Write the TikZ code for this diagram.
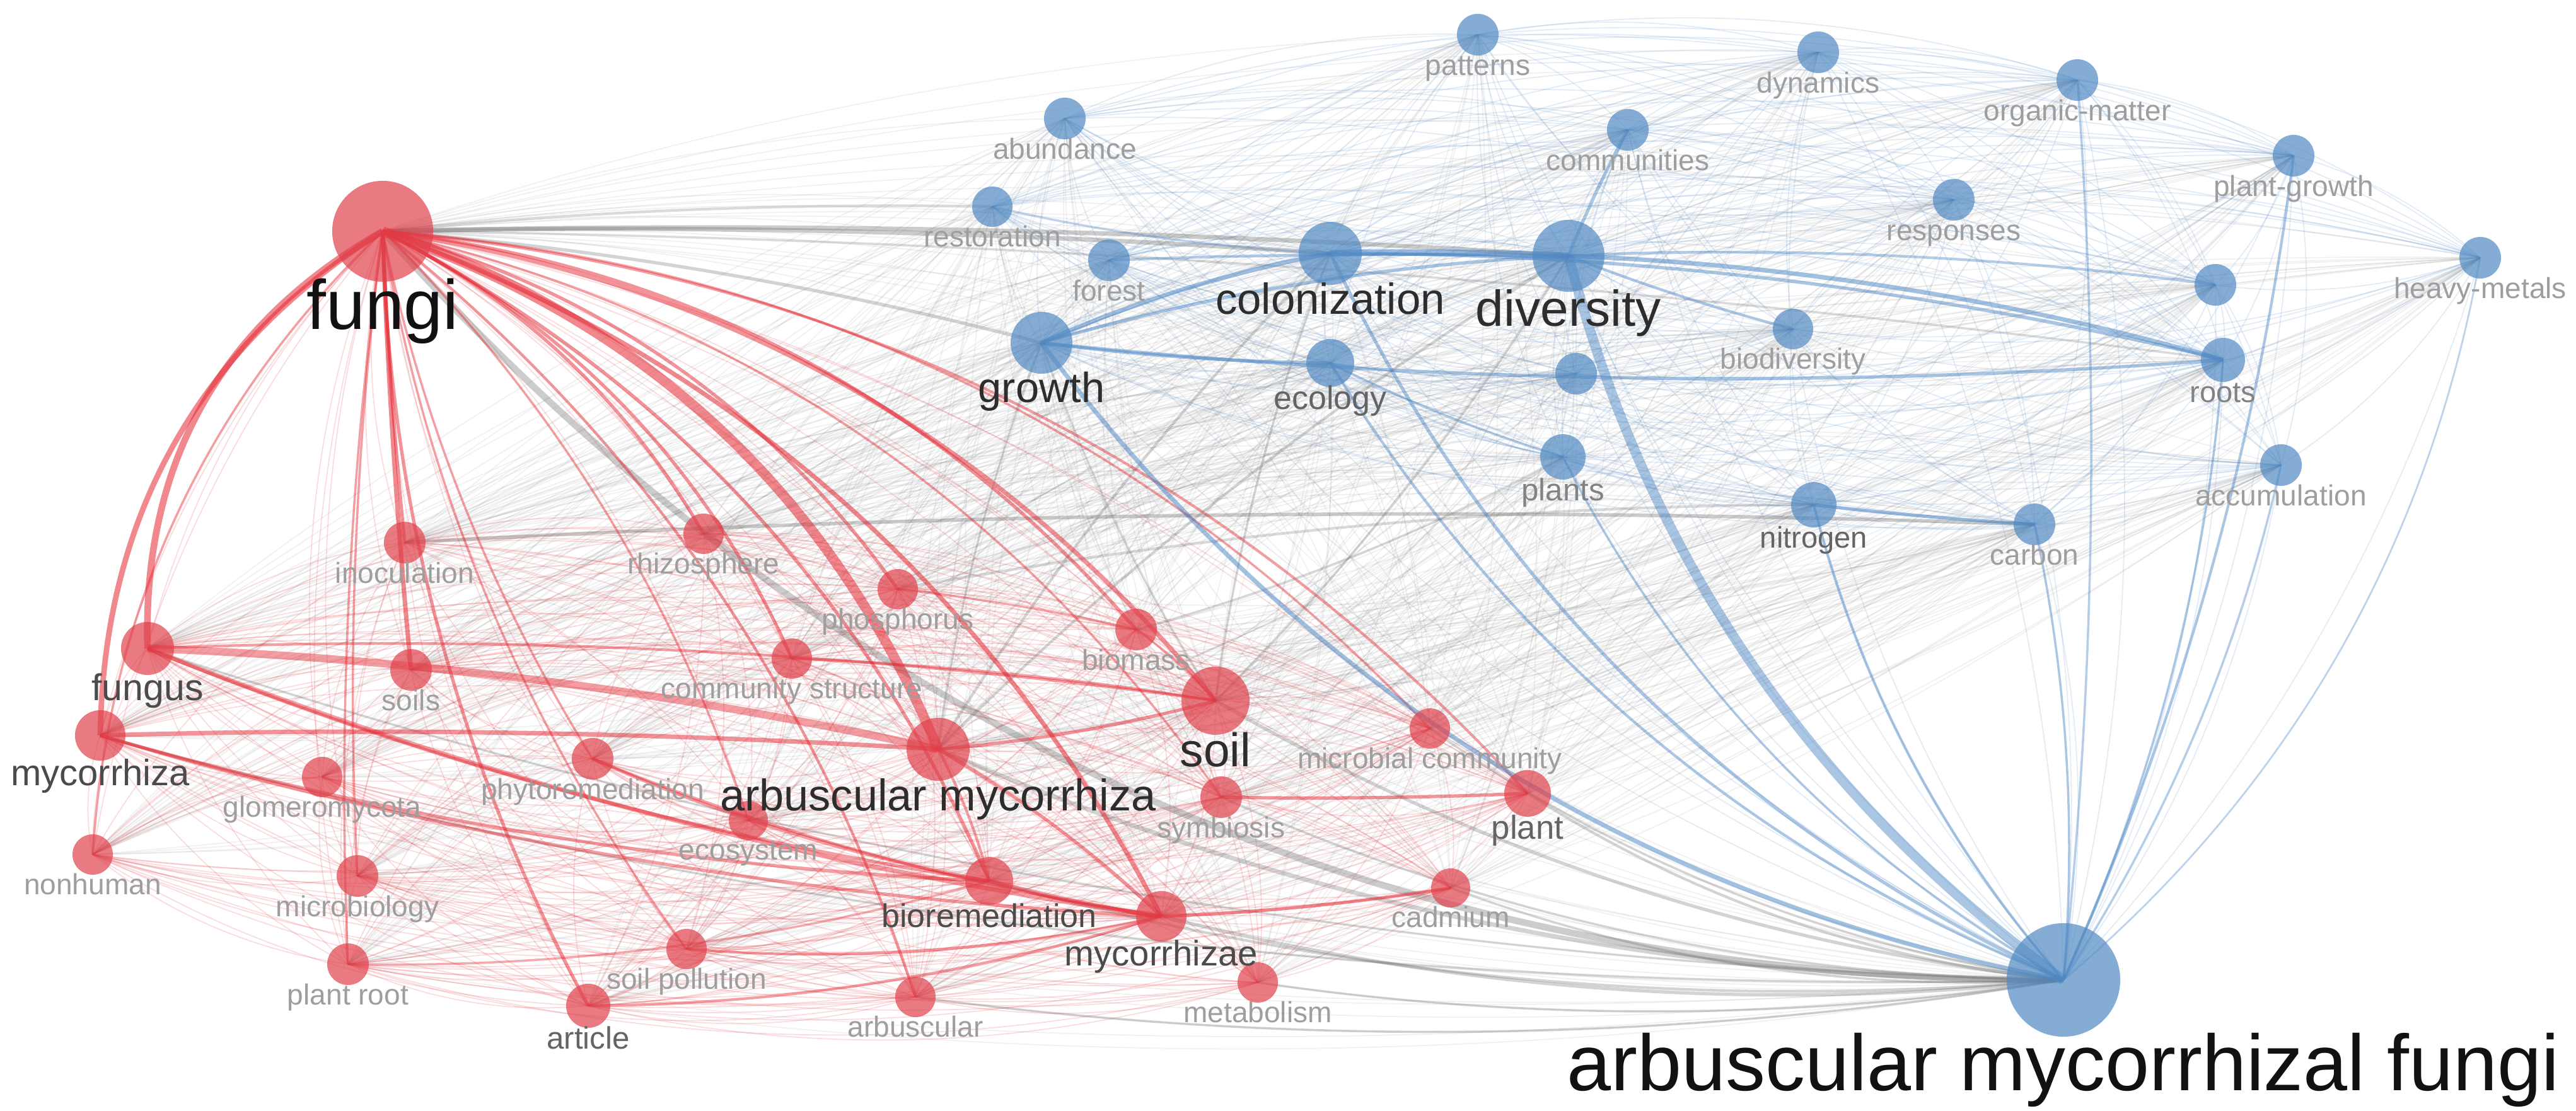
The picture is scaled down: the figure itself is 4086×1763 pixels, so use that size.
\documentclass[tikz,border=0pt]{standalone}
\usepackage{fontspec}
\setmainfont{Liberation Sans}
\definecolor{nodered}{RGB}{224,66,76}
\definecolor{nodeblue}{RGB}{82,138,194}
\definecolor{edgered}{RGB}{228,40,50}
\definecolor{edgeblue}{RGB}{70,130,195}
\definecolor{edgegrey}{RGB}{110,110,110}
\definecolor{lab0}{RGB}{17,17,17}
\definecolor{lab1}{RGB}{45,45,45}
\definecolor{lab2}{RGB}{75,75,75}
\definecolor{lab3}{RGB}{100,100,100}
\definecolor{lab4}{RGB}{130,130,130}
\definecolor{lab5}{RGB}{158,158,158}
\pgfdeclarelayer{background}
\pgfsetlayers{background,main}
\tikzset{
  kwdot/.style={circle, inner sep=0pt, draw=none, fill opacity=0.7},
  hr/.style={draw=edgered, line width=0.5pt, draw opacity=0.16},
  hb/.style={draw=edgeblue, line width=0.5pt, draw opacity=0.15},
  hg/.style={draw=edgegrey, line width=0.5pt, draw opacity=0.095},
}
% #1,#2 node names; #3,#4 centre (px/100) the curve bulges away from; #5 bulge factor; #6 style
\newcommand\kwedge[6]{%
  \pgfmathsetmacro\kwax{\csname kx@#1\endcsname}%
  \pgfmathsetmacro\kway{\csname ky@#1\endcsname}%
  \pgfmathsetmacro\kwbx{\csname kx@#2\endcsname}%
  \pgfmathsetmacro\kwby{\csname ky@#2\endcsname}%
  \pgfmathsetmacro\kwdx{\kwbx-\kwax}%
  \pgfmathsetmacro\kwdy{\kwby-\kway}%
  \pgfmathsetmacro\kws{((\kwax+\kwbx)/200-#3)*(\kwdy/100)-((\kway+\kwby)/200-#4)*(\kwdx/100)}%
  \pgfmathsetmacro\kwk{\kws>0 ? #5 : -#5}%
  \pgfmathsetmacro\kwpx{\kwax+\kwdx/3+\kwk*\kwdy}%
  \pgfmathsetmacro\kwpy{\kway+\kwdy/3-\kwk*\kwdx}%
  \pgfmathsetmacro\kwqx{\kwax+2*\kwdx/3+\kwk*\kwdy}%
  \pgfmathsetmacro\kwqy{\kway+2*\kwdy/3-\kwk*\kwdx}%
  \draw[#6] (#1.center) .. controls (\kwpx,\kwpy) and (\kwqx,\kwqy) .. (#2.center);%
}
\def\kwlist{fungi/607/367/80/fungi/31.6/lab0/nodered,
inoculation/642/861/33/inoculation/13.1/lab5/nodered,
rhizosphere/1116/847/32/rhizosphere/13.1/lab5/nodered,
phosphorus/1424/935/32/phosphorus/13.1/lab5/nodered,
fungus/234/1029/42/fungus/16.8/lab2/nodered,
biomass/1802/999/33/biomass/13.1/lab5/nodered,
commstruct/1256/1045/32/community structure/13.1/lab5/nodered,
soils/652/1063/33/soils/13.1/lab5/nodered,
soil/1928/1112/54/soil/21.3/lab1/nodered,
mycorrhiza/159/1167/40/mycorrhiza/16.5/lab2/nodered,
am/1488/1189/50/arbuscular mycorrhiza/20/lab1/nodered,
microbcomm/2268/1156/32/microbial community/13.1/lab5/nodered,
phyto/940/1204/33/phytoremediation/13.1/lab5/nodered,
glomero/511/1233/32/glomeromycota/13.1/lab5/nodered,
plant/2423/1259/37/plant/15/lab3/nodered,
symbiosis/1937/1265/33/symbiosis/13.1/lab5/nodered,
ecosystem/1187/1302/31/ecosystem/13.1/lab5/nodered,
nonhuman/147/1356/32/nonhuman/13.1/lab5/nodered,
microbiology/567/1390/33/microbiology/13.1/lab5/nodered,
bioremed/1569/1398/38/bioremediation/14.8/lab2/nodered,
mycorrhizae/1842/1454/40/mycorrhizae/16/lab2/nodered,
cadmium/2301/1409/31/cadmium/13.1/lab5/nodered,
plantroot/552/1530/33/plant root/13.1/lab5/nodered,
soilpoll/1089/1506/32/soil pollution/13.1/lab5/nodered,
article/933/1596/35/article/14/lab3/nodered,
arbuscular/1452/1582/32/arbuscular/13.1/lab5/nodered,
metabolism/1995/1559/32/metabolism/13.1/lab5/nodered,
patterns/2344/55/33/patterns/13.1/lab5/nodeblue,
dynamics/2884/83/33/dynamics/13.1/lab5/nodeblue,
orgmatter/3295/127/33/organic-matter/13.1/lab5/nodeblue,
abundance/1689/188/33/abundance/13.1/lab5/nodeblue,
communities/2582/206/33/communities/13.1/lab5/nodeblue,
plantgrowth/3638/247/33/plant-growth/13.1/lab5/nodeblue,
restoration/1574/328/32/restoration/13.1/lab5/nodeblue,
responses/3099/317/33/responses/13.1/lab5/nodeblue,
forest/1759/413/33/forest/13.1/lab5/nodeblue,
colonization/2110/402/50/colonization/19.6/lab1/nodeblue,
diversity/2488/406/57/diversity/22.8/lab1/nodeblue,
heavymetals/3934/409/33/heavy-metals/13.1/lab5/nodeblue,
unlabA/3514/452/33/{}/13.1/lab5/nodeblue,
growth/1652/544/49/growth/19/lab1/nodeblue,
biodiversity/2844/522/32/biodiversity/13.1/lab5/nodeblue,
ecology/2110/576/38/ecology/14.8/lab3/nodeblue,
unlabB/2500/593/33/{}/13.1/lab5/nodeblue,
roots/3526/571/35/roots/13.4/lab4/nodeblue,
plants/2479/725/36/plants/14/lab4/nodeblue,
accumulation/3618/738/33/accumulation/13.1/lab5/nodeblue,
nitrogen/2877/801/36/nitrogen/13.4/lab3/nodeblue,
carbon/3227/832/33/carbon/13.1/lab5/nodeblue,
amf/3273/1555/90/arbuscular mycorrhizal fungi/35.8/lab0/nodeblue}
\def\redlist{fungi,inoculation,rhizosphere,phosphorus,fungus,biomass,commstruct,soils,soil,mycorrhiza,am,microbcomm,phyto,glomero,plant,symbiosis,ecosystem,nonhuman,microbiology,bioremed,mycorrhizae,cadmium,plantroot,soilpoll,article,arbuscular,metabolism}
\def\bluelist{patterns,dynamics,orgmatter,abundance,communities,plantgrowth,restoration,responses,forest,colonization,diversity,heavymetals,unlabA,growth,biodiversity,ecology,unlabB,roots,plants,accumulation,nitrogen,carbon,amf}
\begin{document}
\begin{tikzpicture}[x=0.01cm,y=-0.01cm]
\useasboundingbox (0,0) rectangle (4086,1763);
% keyword circles
\foreach \n/\x/\y/\rr/\lb/\fs/\lc/\cl in \kwlist {
  \expandafter\xdef\csname kx@\n\endcsname{\x}
  \expandafter\xdef\csname ky@\n\endcsname{\y}
  \node[kwdot, fill=\cl, minimum size=\rr*0.02cm] (\n) at (\x,\y) {};
}
% labels
\foreach \n/\x/\y/\rr/\lb/\fs/\lc/\cl in \kwlist {
  \ifx\lb\empty\else
  \node[anchor=base, inner sep=0pt, text=\lc, font=\fontsize{\fs}{\fs}\selectfont] (\n-t) at (\x,{\y+\rr+2.39*\fs}) {\lb};
  \fi
}
\begin{pgfonlayer}{background}
\fill[white] (0,0) rectangle (4086,1763);
% haze: links between clusters
\foreach \a in \redlist {\foreach \b in \bluelist {\kwedge{\a}{\b}{20}{9}{0.05}{hg}}}
% haze: links within clusters
\foreach \a [count=\i] in \redlist {\foreach \b [count=\j] in \redlist {\ifnum\j>\i \kwedge{\a}{\b}{10}{12}{0.09}{hr}\fi}}
\foreach \a [count=\i] in \bluelist {\foreach \b [count=\j] in \bluelist {\ifnum\j>\i \kwedge{\a}{\b}{29}{5}{0.08}{hb}\fi}}
% strong grey links
\foreach \a/\b/\w/\o/\k in {fungi/colonization/2/0.35/0.015, fungi/diversity/2/0.35/0.015, fungi/amf/3/0.35/0.15, fungi/growth/1.5/0.3/0.03, fungi/restoration/1.2/0.25/0.02, fungi/roots/1/0.25/0.02, inoculation/carbon/1.6/0.35/0.015, phosphorus/nitrogen/1.2/0.25/0.03, am/amf/2/0.3/0.07, soil/amf/1.5/0.3/0.07, mycorrhizae/amf/1.5/0.3/0.06, plant/amf/1.2/0.3/0.08, bioremed/amf/1.2/0.3/0.06, symbiosis/amf/1/0.3/0.07, cadmium/amf/1/0.3/0.07, metabolism/amf/1/0.3/0.05, arbuscular/amf/1/0.3/0.05, microbcomm/amf/1/0.3/0.08, fungus/amf/1/0.25/0.05, mycorrhiza/amf/1/0.25/0.05, soil/diversity/1/0.3/0.04, soil/colonization/1/0.3/0.04, am/colonization/1.2/0.3/0.04, am/diversity/1.2/0.3/0.04, am/growth/1/0.3/0.04, growth/soil/1/0.25/0.04, biomass/plants/1/0.25/0.04} {\kwedge{\a}{\b}{20}{9}{\k}{draw=edgegrey, line width=\w pt, draw opacity=\o}}
% strong red links
\foreach \a/\b/\w/\o/\k in {fungi/am/4.5/0.55/0.15, fungi/fungus/3/0.55/0.2, fungi/mycorrhiza/2.5/0.55/0.18, fungi/nonhuman/1/0.45/0.13, fungi/soils/2/0.55/0.01, fungi/inoculation/1.5/0.5/0.01, fungi/mycorrhizae/2/0.55/0.13, fungi/soil/2/0.5/0.13, fungi/biomass/1.5/0.5/0.13, fungi/phosphorus/1.5/0.5/0.12, fungi/rhizosphere/1.5/0.5/0.1, fungi/commstruct/1.5/0.5/0.12, fungi/bioremed/1.5/0.5/0.12, fungi/arbuscular/1.2/0.5/0.1, fungi/article/1.5/0.5/0.08, fungi/plant/1.2/0.45/0.13, fungi/symbiosis/1/0.45/0.13, fungi/microbiology/1/0.45/0.03, fungi/plantroot/1/0.45/0.03, fungi/phyto/1/0.45/0.06, fungi/ecosystem/1/0.45/0.08, fungi/soilpoll/1/0.45/0.08, fungi/microbcomm/1/0.45/0.13, fungus/am/3.5/0.45/0.03, fungus/mycorrhizae/2/0.45/0.04, fungus/bioremed/1.5/0.45/0.04, fungus/soil/1.2/0.45/0.03, mycorrhiza/am/2/0.5/0.015, mycorrhiza/bioremed/1.5/0.45/0.04, mycorrhiza/mycorrhizae/1.5/0.45/0.04, am/soil/1.5/0.5/0.03, am/mycorrhizae/1.5/0.5/0.04, am/bioremed/1.2/0.45/0.04, symbiosis/plant/1.5/0.5/0.01, bioremed/mycorrhizae/2/0.5/0.02, phyto/bioremed/1.5/0.45/0.04, phyto/mycorrhizae/1.2/0.45/0.04, mycorrhizae/cadmium/1.5/0.5/0.02, soil/biomass/1/0.45/0.04, phosphorus/biomass/1/0.4/0.02, commstruct/soil/1.2/0.4/0.02, article/mycorrhizae/1.2/0.45/0.05, plantroot/bioremed/1/0.4/0.05, soilpoll/mycorrhizae/1.2/0.45/0.05} {\kwedge{\a}{\b}{10}{12}{\k}{draw=edgered, line width=\w pt, draw opacity=\o}}
% strong blue links
\foreach \a/\b/\w/\o/\k in {colonization/diversity/3/0.55/0.01, diversity/amf/4.5/0.45/0.12, growth/amf/2/0.5/0.13, colonization/amf/1.5/0.45/0.12, ecology/amf/1.2/0.45/0.11, plants/amf/1/0.45/0.1, nitrogen/amf/1.2/0.45/0.08, carbon/amf/1/0.45/0.05, roots/amf/1/0.45/0.06, accumulation/amf/1/0.4/0.06, plantgrowth/amf/1.2/0.45/0.05, heavymetals/amf/0.8/0.35/0.12, orgmatter/amf/1/0.4/0.03, growth/colonization/2/0.5/0.04, growth/diversity/1.5/0.45/0.04, growth/ecology/1.5/0.45/0.02, growth/roots/1.5/0.45/0.03, diversity/roots/2/0.5/0.04, colonization/roots/1.5/0.45/0.04, diversity/communities/1.5/0.45/0.02, diversity/biodiversity/1.2/0.45/0.02, diversity/unlabA/1.2/0.4/0.03, forest/diversity/1.2/0.4/0.01, restoration/colonization/1/0.35/0.03, ecology/plants/1/0.4/0.03, nitrogen/carbon/1.5/0.5/0.01} {\kwedge{\a}{\b}{29}{5}{\k}{draw=edgeblue, line width=\w pt, draw opacity=\o}}
\end{pgfonlayer}
\end{tikzpicture}
\end{document}
